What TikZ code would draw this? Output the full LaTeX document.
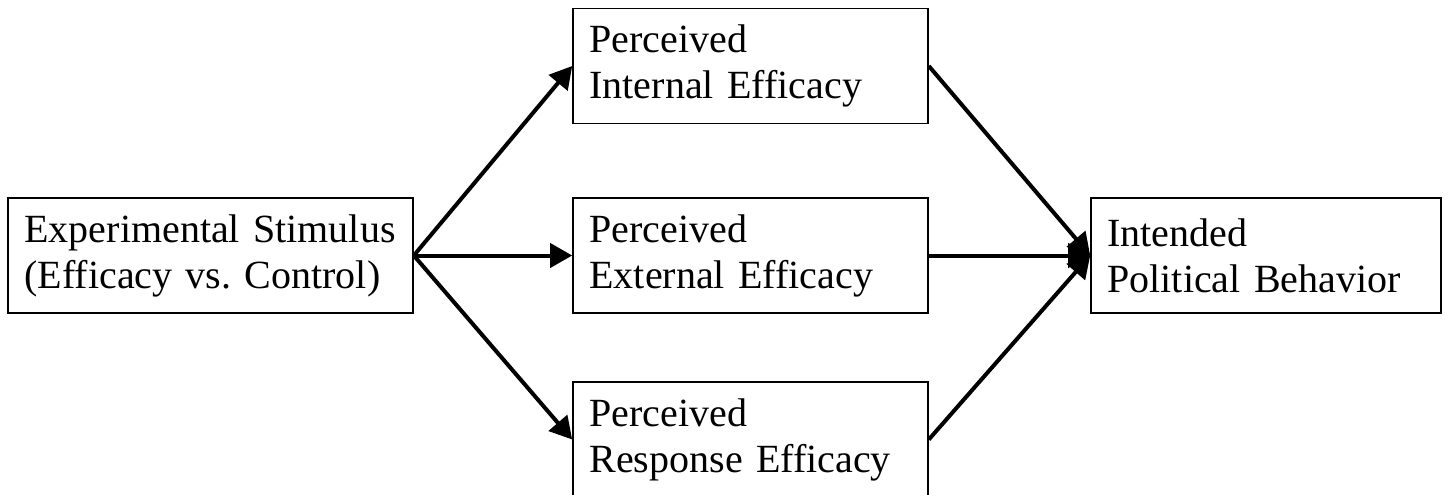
\documentclass[tikz,border=0pt]{standalone}
\usepackage{fontspec}
\setmainfont{Liberation Serif}
\usetikzlibrary{arrows.meta}
\frenchspacing
\begin{document}
\begin{tikzpicture}[x=0.5pt,y=-0.5pt,
  box/.style={draw, line width=0.8pt, inner sep=0pt, align=left,
    minimum height=57.5pt, font=\fontsize{20}{23}\selectfont},
  widebox/.style={box, minimum width=202.5pt, text width=186pt},
  midbox/.style={box, minimum width=177.5pt, text width=161pt},
  rbox/.style={box, minimum width=175pt, text width=158.5pt},
  link/.style={line width=2pt, -{Triangle[length=11pt,width=12pt]}}]
\useasboundingbox (0,0) rectangle (1448,494);
\clip (0,0) rectangle (1448,494);
\fill[white] (0,0) rectangle (1448,494);
\node[widebox] (L) at (210.5,255.5) {Experimental Stimulus\\(Efficacy vs. Control)};
\node[midbox] (T) at (750.5,66) {Perceived\\Internal Efficacy};
\node[midbox] (M) at (750.5,255.5) {Perceived\\External Efficacy};
\node[midbox] (B) at (750.5,439.5) {Perceived\\Response Efficacy};
\node[rbox] (R) at (1266,255.5) {Intended\\Political Behavior};
\draw[link] (L.east) -- (T.west);
\draw[link] (L.east) -- (M.west);
\draw[link] (L.east) -- (B.west);
\draw[link] (T.east) -- (R.west);
\draw[link] (M.east) -- (R.west);
\draw[link] (B.east) -- (R.west);
\end{tikzpicture}
\end{document}
